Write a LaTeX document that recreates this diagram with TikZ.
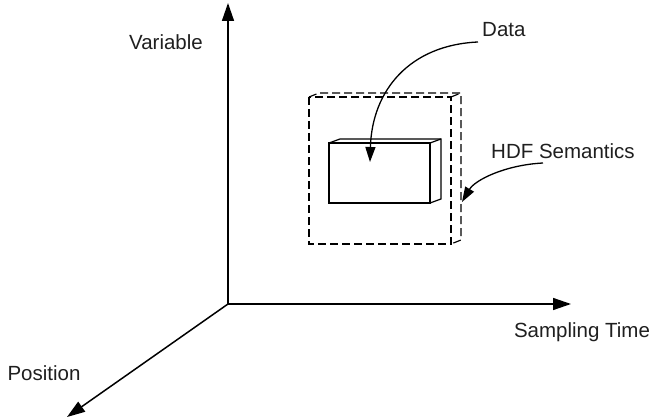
\documentclass[tikz,border=0pt]{standalone}
\usepackage{fontspec}
\setmainfont{Liberation Sans}
\usetikzlibrary{arrows.meta}
\begin{document}
\begin{tikzpicture}[x=1pt,y=-1pt,
  axis/.style={line width=1.5pt,-{Triangle[length=18pt,width=12pt]}},
  lbl/.style={font=\fontsize{20.5}{24}\selectfont,inner sep=0pt,text=black!88},
  dash box/.style={line width=1.2pt,dash pattern=on 8pt off 4pt,line join=miter},
  solid box/.style={line width=1.2pt,line join=miter},
  pointer/.style={line width=1.3pt,-{Triangle[length=15pt,width=10pt]}}]
\useasboundingbox (0,0) rectangle (654,420);
\coordinate (O) at (228,304);
\coordinate (V) at (228,3);
\coordinate (T) at (571,304);
\coordinate (P) at (67,417);
\draw[axis] (O) -- (V);
\draw[axis] (O) -- (T);
\draw[axis] (O) -- (P);
\node[lbl] (var) at (166,42) {Variable};
\node[lbl] (st) at (582,332) {Sampling Time};
\node[lbl] (pos) at (44,373) {Position};
% dashed container
\draw[dash box] (309,97) rectangle (451,244);
\draw[dash box] (309,97) -- (319,93) -- (461,93) -- (461,240) -- (451,244);
\draw[dash box] (451,97) -- (461,93);
% solid data box
\draw[solid box] (329,143) rectangle (430,203);
\draw[solid box] (329,143) -- (340,139) -- (441,139) -- (441,199) -- (430,203);
\draw[solid box] (430,143) -- (441,139);
\coordinate (dtip) at (370,162);
\coordinate (htip) at (462,202);
\node[lbl,anchor=west] (data) at (482,30) {Data};
\node[lbl,anchor=west] (hdf) at (491,151) {HDF Semantics};
\draw[pointer] (478,42) .. controls (410,45) and (372,90) .. (dtip);
\draw[pointer] (543,163) .. controls (505,165) and (475,180) .. (htip);
\end{tikzpicture}
\end{document}
